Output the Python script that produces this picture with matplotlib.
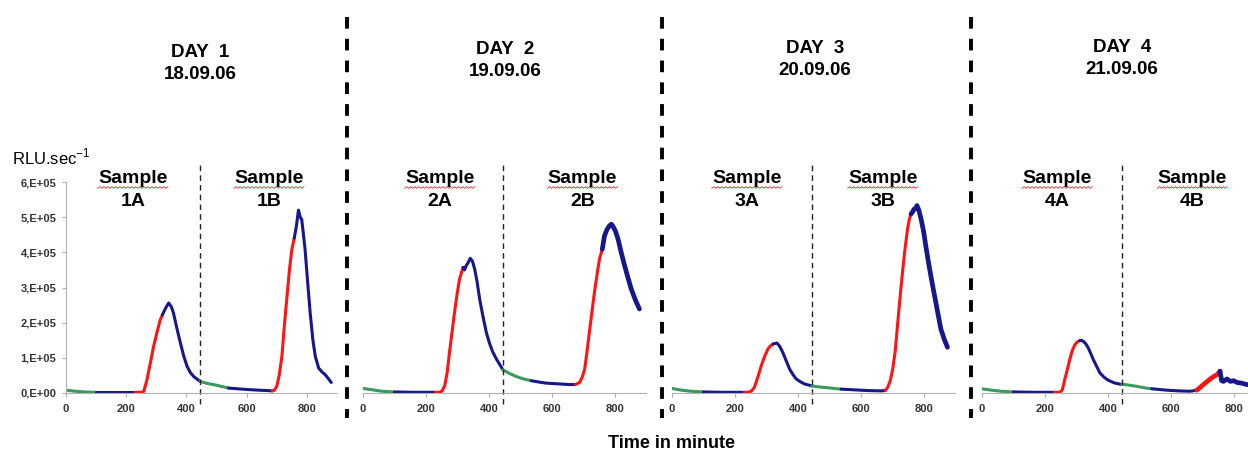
import numpy as np
import matplotlib
matplotlib.use("Agg")
import matplotlib.pyplot as plt
from matplotlib.lines import Line2D
from matplotlib.transforms import blended_transform_factory

plt.rcParams['font.family'] = ['Liberation Sans', 'DejaVu Sans']
plt.rcParams['mathtext.fontset'] = 'custom'
plt.rcParams['mathtext.rm'] = 'Liberation Sans'

# ---- data (RLU.sec-1 in units of 1E+05, time in minutes) ----
days = ["DAY  1", "DAY  2", "DAY  3", "DAY  4"]
dates = ["18.09.06", "19.09.06", "20.09.06", "21.09.06"]
samples = [("1A", "1B"), ("2A", "2B"), ("3A", "3B"), ("4A", "4B")]

t1 = [0, 30, 60, 100, 160, 230, 250, 258, 269, 280, 291, 302, 313, 320, 330, 341, 350, 357, 368, 380,
      391, 402, 413, 424, 445, 470, 501, 540, 570, 601, 640, 667, 685, 692, 700, 708, 717, 725, 734, 742,
      750, 758, 765, 772, 778, 783, 794, 803, 811, 820, 828, 839, 850, 861, 872, 881]
y1 = [0.08, 0.05, 0.03, 0.02, 0.02, 0.02, 0.02, 0.04, 0.38, 0.85, 1.33, 1.72, 2.08, 2.22, 2.40, 2.56, 2.45,
      2.27, 1.85, 1.42, 1.05, 0.76, 0.58, 0.47, 0.33, 0.27, 0.22, 0.14, 0.12, 0.10, 0.08, 0.07, 0.06, 0.08,
      0.19, 0.50, 1.04, 1.90, 2.75, 3.50, 4.08, 4.40, 4.74, 5.20, 5.00, 4.93, 4.08, 3.10, 2.27, 1.50, 1.04,
      0.71, 0.60, 0.52, 0.40, 0.30]

t2 = [0, 30, 60, 100, 160, 230, 244, 252, 260, 268, 275, 283, 291, 299, 307, 318, 323, 328, 334, 341, 348,
      355, 363, 371, 381, 392, 402, 413, 424, 434, 445, 465, 487, 510, 535, 560, 583, 620, 657, 675, 689,
      697, 705, 712, 720, 728, 736, 744, 752, 761, 768, 776, 784, 790, 795, 803, 811, 821, 832, 842, 853,
      866, 879]
y2 = [0.13, 0.09, 0.05, 0.03, 0.02, 0.02, 0.02, 0.06, 0.21, 0.60, 1.16, 1.72, 2.29, 2.80, 3.24, 3.57, 3.50,
      3.62, 3.70, 3.83, 3.75, 3.53, 3.15, 2.67, 2.20, 1.73, 1.42, 1.16, 0.97, 0.82, 0.66, 0.56, 0.47, 0.40,
      0.35, 0.31, 0.28, 0.26, 0.24, 0.24, 0.30, 0.45, 0.68, 1.15, 1.73, 2.30, 2.86, 3.35, 3.81, 4.09, 4.47,
      4.65, 4.76, 4.80, 4.74, 4.60, 4.38, 4.00, 3.62, 3.30, 2.96, 2.65, 2.39]

t3 = [0, 30, 60, 100, 160, 230, 241, 252, 262, 273, 284, 295, 305, 313, 321, 328, 334, 343, 352, 363, 374,
      385, 395, 408, 421, 445, 470, 495, 515, 538, 580, 622, 665, 678, 686, 694, 702, 710, 717, 725, 733,
      741, 749, 755, 760, 765, 770, 775, 779, 785, 792, 800, 807, 815, 823, 831, 839, 847, 855, 865, 876]
y3 = [0.13, 0.08, 0.05, 0.03, 0.02, 0.02, 0.02, 0.05, 0.16, 0.45, 0.78, 1.05, 1.25, 1.34, 1.39, 1.41, 1.42,
      1.32, 1.16, 0.92, 0.68, 0.52, 0.40, 0.32, 0.26, 0.20, 0.17, 0.15, 0.13, 0.11, 0.09, 0.07, 0.06, 0.07,
      0.16, 0.35, 0.68, 1.20, 1.91, 2.70, 3.43, 4.10, 4.66, 4.95, 5.09, 5.15, 5.23, 5.25, 5.33, 5.20, 4.95,
      4.60, 4.19, 3.75, 3.34, 2.95, 2.58, 2.20, 1.82, 1.55, 1.30]

t4 = [0, 30, 60, 100, 160, 230, 248, 256, 263, 271, 279, 287, 295, 303, 311, 316, 322, 330, 338, 346, 354,
      365, 375, 388, 402, 420, 439, 445, 470, 492, 515, 540, 588, 625, 662, 683, 694, 704, 715, 726, 737,
      747, 752, 757, 762, 768, 779, 790, 800, 811, 826, 842, 860, 880]
y4 = [0.12, 0.08, 0.05, 0.03, 0.02, 0.02, 0.02, 0.10, 0.38, 0.65, 0.95, 1.20, 1.37, 1.45, 1.49, 1.50, 1.47,
      1.40, 1.28, 1.12, 0.95, 0.75, 0.57, 0.45, 0.36, 0.29, 0.25, 0.25, 0.22, 0.19, 0.15, 0.12, 0.08, 0.06,
      0.05, 0.08, 0.16, 0.24, 0.32, 0.40, 0.47, 0.52, 0.57, 0.62, 0.35, 0.33, 0.40, 0.33, 0.35, 0.30, 0.28,
      0.24, 0.22, 0.20]

# times where the trace colour changes
breaks1 = [100, 230, 320, 445, 540, 685, 758]
breaks2 = [100, 230, 318, 445, 535, 675, 761]
breaks3 = [100, 230, 321, 445, 538, 678, 760]
breaks4 = [100, 230, 311, 445, 540, 683, 757]

# sample label positions (minutes)
label_x = [(222, 674), (244, 698), (238, 670), (239, 669)]

series = [(t1, y1, breaks1), (t2, y2, breaks2), (t3, y3, breaks3), (t4, y4, breaks4)]

GREEN = '#3a9a5c'
BLUE = '#17178c'
RED = '#ff1414'
seg_colors = [GREEN, BLUE, RED, BLUE, GREEN, BLUE, RED, BLUE]

W, H = 1248, 451
fig = plt.figure(figsize=(W / 100, H / 100), dpi=100)

ax_left = [66, 363, 672, 982]
ax_w = [271, 283, 283, 283]
ax_bottom_px = 393
ax_h_px = 211

for i in range(4):
    ax = fig.add_axes([ax_left[i] / W, (H - ax_bottom_px) / H, ax_w[i] / W, ax_h_px / H])
    t, y, br = series[i]
    t = np.array(t, dtype=float)
    y = np.array(y) * 1e5
    edges = [t[0]] + br + [t[-1]]
    for k in range(len(edges) - 1):
        m = (t >= edges[k]) & (t <= edges[k + 1])
        lw = 2.2
        # noisy tail of the B samples looks thicker
        if (i > 0 and k == 7) or (i == 3 and k == 6):
            lw = 3.4
        ax.plot(t[m], y[m], color=seg_colors[k], lw=lw, solid_capstyle='round')

    ax.set_xlim(0, 900)
    ax.set_ylim(0, 6e5)
    ax.set_xticks([0, 200, 400, 600, 800])
    for s in ['top', 'right']:
        ax.spines[s].set_visible(False)
    ax.spines['bottom'].set_color('#b0b0b0')
    ax.spines['left'].set_color('#b0b0b0')
    ax.tick_params(axis='x', length=3, color='#b0b0b0', pad=5, labelsize=8, labelcolor='#333333')
    if i == 0:
        ax.set_yticks(np.arange(0, 7) * 1e5)
        ax.set_yticklabels([f"{k},E+0{5 if k else 0}" for k in range(7)])
        ax.tick_params(axis='y', length=3, color='#b0b0b0', pad=4, labelsize=8, labelcolor='#333333')
    else:
        ax.spines['left'].set_visible(False)
        ax.set_yticks([])
    for lab in ax.get_xticklabels() + ax.get_yticklabels():
        lab.set_fontweight('bold')
    ax.patch.set_alpha(0)

    # thin dashed separator between sample A and B
    ax.axvline(445, ymin=-0.05, ymax=1.095, color='#222222', lw=1.0,
               linestyle=(0, (4, 3)), clip_on=False)

    tr = blended_transform_factory(ax.transData, ax.transAxes)
    for j in range(2):
        xc = label_x[i][j]
        ax.text(xc, 0.995, "Sample", transform=tr, ha='center', va='baseline',
                fontsize=14, fontweight='bold', color='black')
        ax.text(xc, 0.885, samples[i][j], transform=tr, ha='center', va='baseline',
                fontsize=14, fontweight='bold', color='black')
        half = 35 / (ax_w[i] / 900)
        zx = np.linspace(xc - half, xc + half, 36)
        zy = 0.974 + 0.004 * (np.arange(36) % 2 * 2 - 1)
        ax.plot(zx, zy, transform=tr, color='#e03030', lw=0.6, clip_on=False)

# day headers
day_x = [200, 505, 815, 1122]
day_base = [57, 54, 53, 52]
for i in range(4):
    fig.text(day_x[i] / W, 1 - day_base[i] / H, days[i], ha='center', va='baseline',
             fontsize=13.5, fontweight='bold')
    fig.text(day_x[i] / W, 1 - (day_base[i] + 22) / H, dates[i], ha='center', va='baseline',
             fontsize=13.5, fontweight='bold')

# thick dashed separators between days
for xp in [347, 662, 971]:
    fig.add_artist(Line2D([xp / W, xp / W], [1 - 17 / H, 1 - 418 / H], transform=fig.transFigure,
                          color='black', lw=2.8, linestyle=(0, (3.0, 2.6)), dash_capstyle='butt'))

fig.text(12 / W, 1 - 164 / H, r"RLU.sec$^{\mathregular{-1}}$", ha='left', va='baseline', fontsize=12)
fig.text(672 / W, 1 - 443 / H, "Time in minute", ha='center', va='center', fontsize=13, fontweight='bold')

fig.savefig("out.png", dpi=100)
